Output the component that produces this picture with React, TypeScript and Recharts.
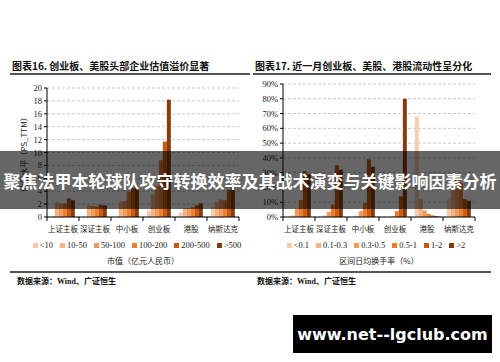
import React from 'react';
import { BarChart, Bar, XAxis, YAxis, CartesianGrid, Legend, Label } from 'recharts';

// Shared categories for both panels
const categories = ['上证主板', '深证主板', '中小板', '创业板', '港股', '纳斯达克'];

// Panel 16: valuation (PS_TTM) by market-cap bucket (亿元人民币)
const capLabels = ['<10', '10-50', '50-100', '100-200', '200-500', '>500'];
const capLt10 = [0, 0, 0, 1.0, 0.7, 1.6];
const cap10to50 = [2.3, 1.8, 2.4, 3.5, 1.4, 2.3];
const cap50to100 = [2.1, 1.7, 2.5, 4.8, 1.4, 2.7];
const cap100to200 = [2.1, 1.6, 3.9, 8.8, 1.5, 2.6];
const cap200to500 = [2.9, 1.9, 4.5, 11.7, 1.8, 4.2];
const capGt500 = [2.6, 1.8, 4.5, 18.2, 2.1, 4.6];
const valuationTicks = [0, 2, 4, 6, 8, 10, 12, 14, 16, 18, 20];

// Panel 17: share of stocks by average daily turnover bucket (%)
const turnoverLabels = ['<0.1', '0.1-0.3', '0.3-0.5', '0.5-1', '1-2', '>2'];
const toLt01 = [0.3, 0, 0, 0, 68, 12];
const to01to03 = [1.0, 1.0, 0.8, 0, 12, 18];
const to03to05 = [5.5, 3.5, 4.0, 0.3, 4.5, 25];
const to05to1 = [11.5, 8.5, 9.5, 4.0, 2.0, 23];
const to1to2 = [31, 35, 39, 14, 1.0, 12];
const toGt2 = [29, 32, 34, 80, 0.5, 11];
const turnoverTicks = [0, 10, 20, 30, 40, 50, 60, 70, 80, 90];

const palette = ['#F8CBAD', '#F4B183', '#F19A5C', '#ED7D31', '#C55A11', '#843C0C'];

const capSeries = [capLt10, cap10to50, cap50to100, cap100to200, cap200to500, capGt500];
const toSeries = [toLt01, to01to03, to03to05, to05to1, to1to2, toGt2];

const buildRows = (series: number[][]) =>
  categories.map((name, i) => {
    const row: Record<string, string | number> = { name };
    series.forEach((s, k) => {
      row[`s${k}`] = s[i];
    });
    return row;
  });

const capRows = buildRows(capSeries);
const toRows = buildRows(toSeries);

const SERIF = "'Liberation Serif', 'Times New Roman', 'Noto Sans CJK SC', serif";
const CJK = "'Noto Sans CJK SC', 'Liberation Serif', serif";

const PLOT_W = 192;
const BAND = PLOT_W / categories.length;

// Category label plus boundary tick marks between categories
const CategoryTick = (props: any) => {
  const { x, y, payload, index } = props;
  const axisY = y - 8;
  const last = index === categories.length - 1;
  return (
    <g>
      <line x1={x - BAND / 2} x2={x - BAND / 2} y1={axisY} y2={axisY + 4} stroke="#000" strokeWidth={1} />
      {last && <line x1={x + BAND / 2} x2={x + BAND / 2} y1={axisY} y2={axisY + 4} stroke="#000" strokeWidth={1} />}
      <text x={x} y={y + 7} textAnchor="middle" fontSize={7.5} fontFamily={CJK} fill="#222">
        {payload.value}
      </text>
    </g>
  );
};

const makeLegend = (order: string[]) => (props: any) => {
  const items = [...(props.payload || [])].sort(
    (a: any, b: any) => order.indexOf(a.value) - order.indexOf(b.value)
  );
  return (
    <div
      style={{
        display: 'flex',
        justifyContent: 'center',
        gap: 7,
        fontFamily: SERIF,
        fontSize: 8.5,
        color: '#222',
        lineHeight: '12px',
      }}
    >
      {items.map((p: any) => (
        <span key={p.value} style={{ display: 'flex', alignItems: 'center', whiteSpace: 'nowrap' }}>
          <span style={{ width: 5, height: 5, background: p.color, marginRight: 2, display: 'inline-block' }} />
          {p.value}
        </span>
      ))}
    </div>
  );
};

const CapLegend = makeLegend(capLabels);
const TurnoverLegend = makeLegend(turnoverLabels);

const Heading = ({ left, text }: { left: number; text: string }) => (
  <div
    style={{
      position: 'absolute',
      left,
      top: 59,
      fontFamily: CJK,
      fontWeight: 700,
      fontSize: 10,
      color: '#111',
      whiteSpace: 'nowrap',
      lineHeight: '14px',
    }}
  >
    {text}
  </div>
);

const Rule = ({ left, width, top }: { left: number; width: number; top: number }) => (
  <div style={{ position: 'absolute', left, top, width, height: 1.5, background: '#555' }} />
);

const Source = ({ left }: { left: number }) => (
  <div
    style={{
      position: 'absolute',
      left,
      top: 275,
      fontFamily: CJK,
      fontWeight: 700,
      fontSize: 8,
      color: '#111',
      whiteSpace: 'nowrap',
      lineHeight: '11px',
    }}
  >
    数据来源：<span style={{ fontFamily: SERIF, fontWeight: 700 }}>Wind</span>、广证恒生
  </div>
);

export default function App() {
  return (
    <div style={{ position: 'absolute', left: 0, top: 0, width: 500, height: 362, background: '#fff', overflow: 'hidden' }}>
      <Heading left={12} text="图表16. 创业板、美股头部企业估值溢价显著" />
      <Heading left={255} text="图表17. 近一月创业板、美股、港股流动性呈分化" />
      <Rule left={10} width={240} top={73} />
      <Rule left={253} width={238} top={73} />

      <div style={{ position: 'absolute', left: 0, top: 0 }}>
        <BarChart width={250} height={272} data={capRows} margin={{ top: 88, right: 11, bottom: 35, left: 0 }} barCategoryGap="12%" barGap={0}>
          <CartesianGrid vertical={false} stroke="#c8c8c8" strokeDasharray="3 2" />
          <XAxis dataKey="name" tick={<CategoryTick />} tickLine={false} tickSize={4} tickMargin={4} height={20} axisLine={{ stroke: '#000' }} interval={0}>
            <Label value="市值（亿元人民币）" position="insideBottom" offset={-27} fontSize={8} fontFamily={CJK} fill="#222" />
          </XAxis>
          <YAxis
            width={47}
            domain={[0, 20]}
            ticks={valuationTicks}
            interval={0}
            tick={{ fontSize: 8.5, fontFamily: SERIF, fill: '#222' }}
            tickSize={3}
            tickMargin={2}
            axisLine={{ stroke: '#000' }}
            tickLine={{ stroke: '#000' }}
          >
            <Label value="估值水平（PS_TTM）" angle={-90} position="center" dx={1} fontSize={8} fontFamily={CJK} fill="#222" />
          </YAxis>
          <Legend layout="horizontal" verticalAlign="middle" align="center" width={214} wrapperStyle={{ top: 239, left: 30 }} content={<CapLegend />} />
          {capLabels.map((label, k) => (
            <Bar key={label} dataKey={`s${k}`} name={label} fill={palette[k]} isAnimationActive={false} />
          ))}
        </BarChart>
      </div>

      <div style={{ position: 'absolute', left: 250, top: 0 }}>
        <BarChart width={250} height={272} data={toRows} margin={{ top: 84, right: 25, bottom: 35, left: 0 }} barCategoryGap="12%" barGap={0}>
          <CartesianGrid vertical={false} stroke="#c8c8c8" strokeDasharray="3 2" />
          <XAxis dataKey="name" tick={<CategoryTick />} tickLine={false} tickSize={4} tickMargin={4} height={20} axisLine={{ stroke: '#000' }} interval={0}>
            <Label value="区间日均换手率（%）" position="insideBottom" offset={-27} fontSize={8} fontFamily={CJK} fill="#222" />
          </XAxis>
          <YAxis
            width={33}
            domain={[0, 90]}
            ticks={turnoverTicks}
            interval={0}
            tickFormatter={(v: number) => `${v}%`}
            tick={{ fontSize: 8.5, fontFamily: SERIF, fill: '#222' }}
            tickSize={3}
            tickMargin={2}
            axisLine={{ stroke: '#000' }}
            tickLine={{ stroke: '#000' }}
          />
          <Legend layout="horizontal" verticalAlign="middle" align="center" width={220} wrapperStyle={{ top: 239, left: 16 }} content={<TurnoverLegend />} />
          {turnoverLabels.map((label, k) => (
            <Bar key={label} dataKey={`s${k}`} name={label} fill={palette[k]} isAnimationActive={false} />
          ))}
        </BarChart>
      </div>

      <Rule left={10} width={481} top={271} />
      <Source left={17} />
      <Source left={257} />

      <div
        style={{
          position: 'absolute',
          left: 0,
          top: 151,
          width: 500,
          height: 58,
          background: 'rgba(0,0,0,0.6)',
          display: 'flex',
          alignItems: 'center',
          justifyContent: 'center',
          color: '#fff',
          fontFamily: CJK,
          fontWeight: 700,
          fontSize: 17,
          whiteSpace: 'nowrap',
        }}
      >
        聚焦法甲本轮球队攻守转换效率及其战术演变与关键影响因素分析
      </div>

      <div
        style={{
          position: 'absolute',
          left: 293,
          top: 315,
          width: 199,
          height: 38,
          background: '#000',
          display: 'flex',
          alignItems: 'center',
          justifyContent: 'center',
          color: '#fff',
          fontFamily: "'DejaVu Sans', sans-serif",
          fontWeight: 700,
          fontSize: 16,
          whiteSpace: 'nowrap',
        }}
      >
        www.net--lgclub.com
      </div>
    </div>
  );
}
